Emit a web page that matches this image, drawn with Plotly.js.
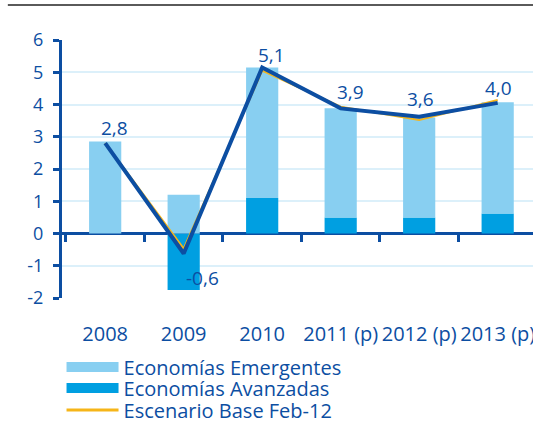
<!DOCTYPE html>
<html><head><meta charset="utf-8">
<script src="https://cdn.plot.ly/plotly-3.0.1.min.js"></script>
<style>html,body{margin:0;padding:0;background:#fff;}</style>
</head><body><div id="chart" style="width:533px;height:421px;"></div>
<script>
const categories = ['2008', '2009', '2010', '2011 (p)', '2012 (p)', '2013 (p)'];
const avanzadas = [0, -1.75, 1.1, 0.5, 0.5, 0.62];
const emergentes = [2.85, 1.2, 4.05, 3.38, 3.1, 3.45];
const mundo = [2.8, -0.62, 5.15, 3.88, 3.62, 4.05];
const mundoLabels = ['2,8', '-0,6', '5,1', '3,9', '3,6', '4,0'];
const escenarioBase = [2.8, -0.47, 5.05, 3.93, 3.52, 4.14];
const yTicks = [-2, -1, 0, 1, 2, 3, 4, 5, 6];

// label offsets (pixels) – styling only
const labelDX = [9, 19, 9, 10, 1, 1];
const labelDY = [15, -24, 12, 16, 18, 15];

const NAVY = '#0c4ea2', LIGHT = '#88cff1', MID = '#009fe1', YEL = '#f6b519';
const FONT = 'Open Sans, sans-serif';

const data = [
  {type: 'bar', name: 'Economías Avanzadas', x: categories, y: avanzadas, marker: {color: MID}, width: 0.41, showlegend: false, hoverinfo: 'skip'},
  {type: 'bar', name: 'Economías Emergentes', x: categories, y: emergentes, marker: {color: LIGHT}, width: 0.41, showlegend: false, hoverinfo: 'skip'},
  {type: 'scatter', mode: 'lines', name: 'Escenario Base Feb-12', x: categories, y: escenarioBase, line: {color: YEL, width: 2}, showlegend: false},
  {type: 'scatter', mode: 'lines', name: 'Mundo', x: categories, y: mundo, xaxis: 'x2', line: {color: NAVY, width: 4}, showlegend: false},
  // legend entries
  {type: 'scatter', mode: 'lines', name: 'Economías Emergentes', x: [null], y: [null], line: {color: LIGHT, width: 12}, legend: 'legend'},
  {type: 'scatter', mode: 'lines', name: 'Economías Avanzadas', x: [null], y: [null], line: {color: MID, width: 12}, legend: 'legend2'},
  {type: 'scatter', mode: 'lines', name: 'Escenario Base Feb-12', x: [null], y: [null], line: {color: YEL, width: 3}, legend: 'legend3'}
];

const legendBase = (y) => ({x: -0.001, y: y, xanchor: 'left', yanchor: 'middle',
  itemwidth: 52, font: {family: FONT, size: 20, color: NAVY}, bgcolor: 'rgba(0,0,0,0)'});

// category axis: annotation x given as the category index
const annotations = categories.map((c, i) => ({
  x: i, y: mundo[i], xref: 'x2', yref: 'y', text: mundoLabels[i], showarrow: false,
  xanchor: 'center', yanchor: 'middle', xshift: labelDX[i], yshift: labelDY[i],
  font: {family: FONT, size: 19, color: NAVY}
}));

const layout = {
  width: 533, height: 421,
  margin: {l: 62, r: 0, t: 40, b: 123, autoexpand: false},
  paper_bgcolor: '#fff', plot_bgcolor: '#fff',
  barmode: 'relative',
  font: {family: FONT, color: NAVY},
  showlegend: true,
  xaxis: {type: 'category', categoryorder: 'array', categoryarray: categories, range: [-0.55, 5.45], autorange: false,
    anchor: 'free', position: 0.25, showticklabels: false, tickson: 'boundaries', ticks: 'outside', ticklen: 7, tickwidth: 3,
    tickcolor: NAVY, showline: false, showgrid: false, zeroline: false, fixedrange: true},
  xaxis2: {type: 'category', categoryorder: 'array', categoryarray: categories, range: [-0.55, 5.45], autorange: false,
    overlaying: 'x', anchor: 'y', side: 'bottom', showticklabels: true, tickangle: 0, ticks: 'outside', ticklen: 18, tickcolor: 'rgba(0,0,0,0)',
    tickfont: {family: FONT, size: 20, color: NAVY}, showline: false, showgrid: false, zeroline: false},
  yaxis: {range: [-2, 6], autorange: false, tickmode: 'array', tickvals: yTicks, ticktext: yTicks.map(String),
    showgrid: true, gridcolor: '#dcf0fa', gridwidth: 2, zeroline: true, zerolinecolor: NAVY, zerolinewidth: 3,
    showline: true, linecolor: NAVY, linewidth: 3, ticks: 'outside', ticklen: 6, tickwidth: 3, tickcolor: NAVY,
    ticklabelstandoff: 6, tickfont: {family: FONT, size: 18, color: NAVY}},
  legend: legendBase((298 - 367) / 258),
  legend2: legendBase((298 - 388) / 258),
  legend3: legendBase((298 - 410) / 258),
  annotations: annotations,
  shapes: [{type: 'line', xref: 'paper', yref: 'paper', x0: -0.115, x1: 1.0, y0: 1.136, y1: 1.136, line: {color: '#5a5a5a', width: 2}}]
};

Plotly.newPlot('chart', data, layout, {displayModeBar: false, staticPlot: true});
</script></body></html>
